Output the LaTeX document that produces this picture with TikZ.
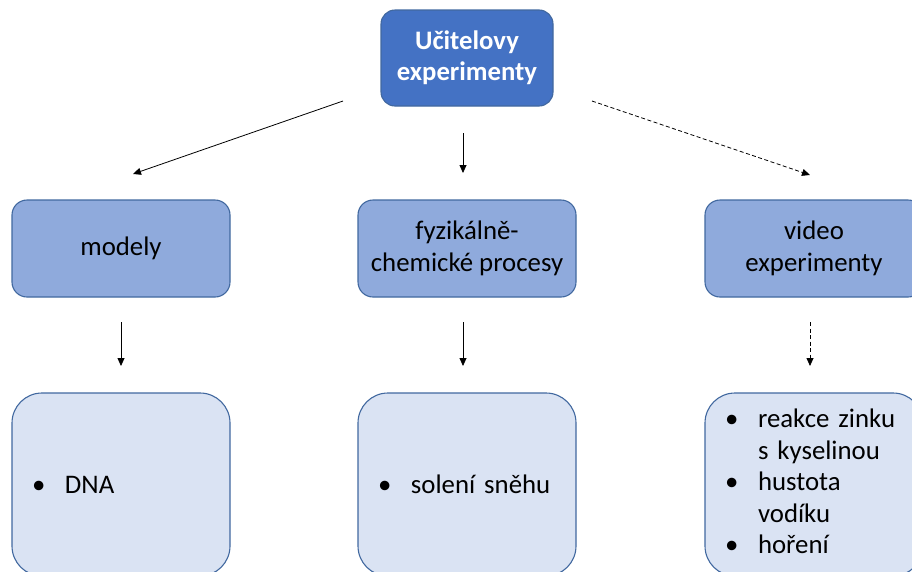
\documentclass[tikz,border=0pt]{standalone}
\usepackage{fontspec}
\setmainfont{Carlito}
\usetikzlibrary{positioning,calc,arrows.meta}

\definecolor{headblue}{HTML}{4472C4}
\definecolor{midblue}{HTML}{8FAADC}
\definecolor{paleblue}{HTML}{DAE3F3}
\definecolor{edgeblue}{HTML}{41689F}

\begin{document}
\begin{tikzpicture}
    [
    x=1pt, y=-1pt,
    headbox/.style={
      draw=edgeblue, fill=headblue, line width=1.1pt,
      rounded corners=14pt, minimum width=172pt, minimum height=96pt,
      align=center, text=white,
      font=\fontsize{26.7}{31}\selectfont\bfseries},
    groupbox/.style={
      draw=edgeblue, fill=midblue, line width=1.1pt,
      rounded corners=15pt, minimum width=218pt, minimum height=97pt,
      align=center, font=\fontsize{26.8}{32}\selectfont},
    listbox/.style={
      draw=edgeblue, fill=paleblue, line width=1.1pt,
      rounded corners=30pt, minimum width=218pt, minimum height=183pt,
      inner xsep=20pt, text width=178pt, align=left,
      font=\fontsize{26.8}{31.5}\selectfont},
    arr/.style={
      line width=0.8pt,
      -{Triangle[length=8pt, width=7pt]}},
    dasharr/.style={
      arr, dash pattern=on 4pt off 2.5pt}
    ]
    \def\item#1{\makebox[33pt][l]{\textbullet}#1}

    \useasboundingbox (0,0) rectangle (912,571);
    \clip (0,0) rectangle (912,571);

    % The main box on top
    \node[headbox] (teacher) at (467, 58) {U\v{c}itelovy\\experimenty};

    % Second row
    \node[groupbox] (models) at (121, 248.5) {modely};
    \node[groupbox] (processes) at (467, 248.5) {fyzikálně-\\chemické procesy};
    \node[groupbox] (videos) at (814, 248.5) {video\\experimenty};

    % Third row, the examples
    \node[listbox] (dna) at (121, 484.5) {\item{DNA}};
    \node[listbox] (snow) at (467, 484.5) {\item{solení sněhu}};
    \node[listbox] (videolist) at (814, 484.5)
      {\begin{tabular}{@{}p{33pt}@{}l@{}}
        \textbullet & reakce zinku\\
                    & s kyselinou\\
        \textbullet & hustota\\
                    & vodíku\\
        \textbullet & hoření
      \end{tabular}};

    % Free ends of the arrows
    \coordinate (toModelsA) at (343, 101);
    \coordinate (toModelsB) at (133, 174);
    \coordinate (toProcA) at (463, 133);
    \coordinate (toProcB) at (463, 173);
    \coordinate (toVideoA) at (592, 101);
    \coordinate (toVideoB) at (810, 175);
    \coordinate (toDnaA) at (121, 322);
    \coordinate (toDnaB) at (121, 366);
    \coordinate (toSnowA) at (463, 322);
    \coordinate (toSnowB) at (463, 366);
    \coordinate (toListA) at (810, 322);
    \coordinate (toListB) at (810, 366);

    % Draw the arrows
    \draw[arr] (toModelsA) -- (toModelsB);
    \draw[arr] (toProcA) -- (toProcB);
    \draw[dasharr] (toVideoA) -- (toVideoB);
    \draw[arr] (toDnaA) -- (toDnaB);
    \draw[arr] (toSnowA) -- (toSnowB);
    \draw[dasharr] (toListA) -- (toListB);
\end{tikzpicture}
\end{document}
